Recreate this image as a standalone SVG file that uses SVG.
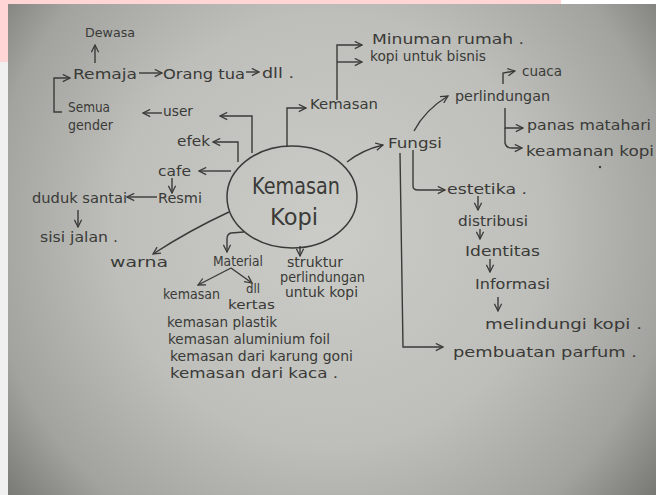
<svg xmlns="http://www.w3.org/2000/svg" width="656" height="495" viewBox="0 0 656 495">
<defs>
<radialGradient id="paper" gradientUnits="userSpaceOnUse" cx="330" cy="230" r="430">
<stop offset="0" stop-color="#cbccc7"/>
<stop offset="0.5" stop-color="#bebfba"/>
<stop offset="0.8" stop-color="#a2a39e"/>
<stop offset="1" stop-color="#72736e"/>
</radialGradient>
<marker id="ah" viewBox="0 0 10 10" refX="9" refY="5" markerWidth="9" markerHeight="9" markerUnits="userSpaceOnUse" orient="auto">
<path d="M1,1 L9,5 L1,9" fill="none" stroke="#3a3a38" stroke-width="1.4"/>
</marker>
<style>
text{font-family:"DejaVu Sans","Liberation Sans",sans-serif;font-size:14px;fill:#3a3a38;}
.s{font-size:12px;}
.m{font-size:13px;}
.big{font-size:23px;}
.c path{fill:none;stroke:#3a3a38;stroke-width:1.4;marker-end:url(#ah);}
</style>
</defs>
<rect x="0" y="0" width="656" height="495" fill="#ffffff"/>
<rect x="0" y="0" width="561" height="4" fill="#ffd5d6"/>
<rect x="0" y="0" width="8" height="62" fill="#ffd5d6"/>
<rect x="0" y="62" width="8" height="433" fill="#f0f0f0"/>
<rect x="8" y="4" width="648" height="491" fill="url(#paper)"/>

<g id="connectors" class="c">
<path d="M95,63 L95,45"/>
<path d="M139,73 L162,73"/>
<path d="M246,72 L259,72"/>
<path d="M62,112 L54,112 L54,78 L70,78"/>
<path d="M162,113 L143,113"/>
<path d="M252,153 L252,116 L220,116"/>
<path d="M238,162 L238,142 L213,142"/>
<path d="M231,171 L199,171"/>
<path d="M172,178 L172,193"/>
<path d="M157,197 L127,197"/>
<path d="M78,210 L78,227"/>
<path d="M229,212 Q190,230 153,254"/>
<path d="M244,232 L231,233 Q227,234 227,239 L227,252"/>
<path d="M300,246 L300,256"/>
<path d="M231,268 L198,285"/>
<path d="M231,268 L252,283"/>
<path d="M287,146 L287,108 L306,108"/>
<path d="M337,100 L337,45 L362,45"/>
<path d="M337,62 L362,62"/>
<path d="M347,162 Q362,150 383,145"/>
<path d="M414,131 Q425,110 448,96"/>
<path d="M503,84 L503,73 L515,71"/>
<path d="M505,108 L505,128 L523,128"/>
<path d="M505,128 L505,143 Q506,148 512,148 L522,148"/>
<path d="M413,150 L413,186 Q413,190 418,190 L445,190"/>
<path d="M400,153 L403,347 L443,347"/>
<path d="M478,196 L478,210"/>
<path d="M480,229 L480,239"/>
<path d="M490,259 L490,272"/>
<path d="M498,297 L498,311"/>
</g>

<g id="center">
<ellipse cx="292" cy="197" rx="65" ry="51" fill="none" stroke="#3a3a38" stroke-width="1.5"/>
<text class="big" x="252" y="194" textLength="88" lengthAdjust="spacingAndGlyphs">Kemasan</text>
<text class="big" x="270" y="225" textLength="48" lengthAdjust="spacingAndGlyphs">Kopi</text>
</g>

<g id="dewasa"><text class="s" x="85" y="37" textLength="50" lengthAdjust="spacingAndGlyphs">Dewasa</text></g>
<g id="remaja"><text x="73" y="79" textLength="64" lengthAdjust="spacingAndGlyphs">Remaja</text></g>
<g id="orangtua"><text x="163" y="79" textLength="82" lengthAdjust="spacingAndGlyphs">Orang tua</text></g>
<g id="dll1"><text x="262" y="78" textLength="32" lengthAdjust="spacingAndGlyphs">dll .</text></g>
<g id="semuagender">
<text x="68" y="112" textLength="42" lengthAdjust="spacingAndGlyphs">Semua</text>
<text x="68" y="130" textLength="45" lengthAdjust="spacingAndGlyphs">gender</text>
</g>
<g id="user"><text x="163" y="116" textLength="30" lengthAdjust="spacingAndGlyphs">user</text></g>
<g id="efek"><text x="177" y="146" textLength="33" lengthAdjust="spacingAndGlyphs">efek</text></g>
<g id="cafe"><text x="158" y="176" textLength="33" lengthAdjust="spacingAndGlyphs">cafe</text></g>
<g id="resmi"><text x="158" y="203" textLength="44" lengthAdjust="spacingAndGlyphs">Resmi</text></g>
<g id="duduksantai"><text x="32" y="203" textLength="95" lengthAdjust="spacingAndGlyphs">duduk santai</text></g>
<g id="sisijalan"><text x="40" y="242" textLength="78" lengthAdjust="spacingAndGlyphs">sisi jalan .</text></g>
<g id="warna"><text x="110" y="267" textLength="58" lengthAdjust="spacingAndGlyphs">warna</text></g>
<g id="material"><text x="213" y="266" textLength="50" lengthAdjust="spacingAndGlyphs">Material</text></g>
<g id="struktur">
<text x="287" y="267" textLength="56" lengthAdjust="spacingAndGlyphs">struktur</text>
<text x="280" y="282" textLength="85" lengthAdjust="spacingAndGlyphs">perlindungan</text>
<text x="285" y="297" textLength="73" lengthAdjust="spacingAndGlyphs">untuk kopi</text>
</g>
<g id="kemasankertas">
<text x="163" y="299" textLength="57" lengthAdjust="spacingAndGlyphs">kemasan</text>
<text class="m" x="228" y="309" textLength="47" lengthAdjust="spacingAndGlyphs">kertas</text>
</g>
<g id="dll2"><text class="s" x="246" y="293" textLength="14" lengthAdjust="spacingAndGlyphs">dll</text></g>
<g id="materials">
<text x="167" y="327" textLength="110" lengthAdjust="spacingAndGlyphs">kemasan plastik</text>
<text x="168" y="344" textLength="162" lengthAdjust="spacingAndGlyphs">kemasan aluminium foil</text>
<text x="170" y="361" textLength="183" lengthAdjust="spacingAndGlyphs">kemasan dari karung goni</text>
<text x="170" y="378" textLength="168" lengthAdjust="spacingAndGlyphs">kemasan dari kaca  .</text>
</g>
<g id="kemasan"><text x="310" y="109" textLength="68" lengthAdjust="spacingAndGlyphs">Kemasan</text></g>
<g id="minuman"><text x="372" y="44" textLength="152" lengthAdjust="spacingAndGlyphs">Minuman rumah  .</text></g>
<g id="kopibisnis"><text x="370" y="61" textLength="116" lengthAdjust="spacingAndGlyphs">kopi untuk bisnis</text></g>
<g id="fungsi"><text x="388" y="148" textLength="54" lengthAdjust="spacingAndGlyphs">Fungsi</text></g>
<g id="perlindungan"><text x="455" y="101" textLength="95" lengthAdjust="spacingAndGlyphs">perlindungan</text></g>
<g id="cuaca"><text x="522" y="76" textLength="40" lengthAdjust="spacingAndGlyphs">cuaca</text></g>
<g id="panas"><text x="527" y="130" textLength="124" lengthAdjust="spacingAndGlyphs">panas matahari</text></g>
<g id="keamanan">
<text x="526" y="156" textLength="128" lengthAdjust="spacingAndGlyphs">keamanan kopi</text>
<circle cx="600" cy="167" r="1.2" fill="#3a3a38"/>
</g>
<g id="estetika"><text x="447" y="194" textLength="80" lengthAdjust="spacingAndGlyphs">estetika .</text></g>
<g id="distribusi"><text x="458" y="226" textLength="70" lengthAdjust="spacingAndGlyphs">distribusi</text></g>
<g id="identitas"><text x="465" y="256" textLength="75" lengthAdjust="spacingAndGlyphs">Identitas</text></g>
<g id="informasi"><text x="475" y="289" textLength="75" lengthAdjust="spacingAndGlyphs">Informasi</text></g>
<g id="melindungi"><text x="485" y="329" textLength="157" lengthAdjust="spacingAndGlyphs">melindungi kopi  .</text></g>
<g id="parfum"><text x="453" y="357" textLength="184" lengthAdjust="spacingAndGlyphs">pembuatan parfum  .</text></g>
</svg>
